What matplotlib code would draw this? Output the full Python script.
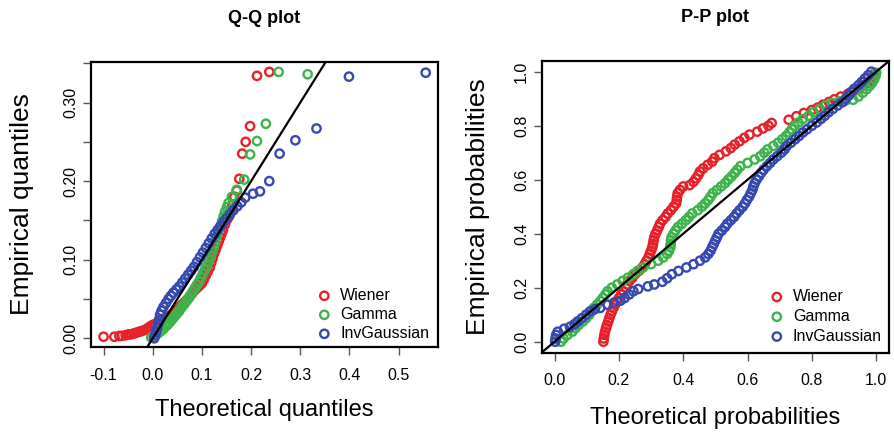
import numpy as np
import matplotlib
matplotlib.use('Agg')
import matplotlib.pyplot as plt

plt.rcParams['font.family'] = ['Liberation Sans', 'DejaVu Sans']

# ==============================================
# Data
# ==============================================
SERIES = ['Wiener', 'Gamma', 'InvGaussian']
COLORS = ['#e8202a', '#3cb44a', '#3549b0']

# Q-Q plot: (theoretical quantile, empirical quantile)
qq_wiener = [
    (-0.100, 0.002), (-0.078, 0.002), (-0.068, 0.003), (-0.063, 0.003), (-0.055, 0.004),
    (-0.049, 0.005), (-0.044, 0.005), (-0.039, 0.006), (-0.034, 0.007), (-0.029, 0.008),
    (-0.024, 0.009), (-0.019, 0.010), (-0.014, 0.011), (-0.010, 0.013), (-0.005, 0.015),
    (0.000, 0.017), (0.005, 0.018), (0.010, 0.020), (0.015, 0.022), (0.020, 0.023),
    (0.025, 0.025), (0.030, 0.027), (0.035, 0.029), (0.040, 0.031), (0.045, 0.034),
    (0.050, 0.037), (0.055, 0.040), (0.060, 0.043), (0.065, 0.046), (0.070, 0.049),
    (0.075, 0.053), (0.080, 0.057), (0.085, 0.061), (0.090, 0.064), (0.095, 0.067),
    (0.100, 0.070), (0.104, 0.075), (0.108, 0.080), (0.112, 0.085), (0.116, 0.090),
    (0.119, 0.096), (0.122, 0.102), (0.125, 0.108), (0.128, 0.113), (0.131, 0.118),
    (0.134, 0.123), (0.137, 0.128), (0.140, 0.133), (0.143, 0.138), (0.147, 0.145),
    (0.151, 0.151), (0.155, 0.155), (0.158, 0.160), (0.162, 0.170), (0.166, 0.180),
    (0.171, 0.188), (0.176, 0.203), (0.182, 0.235), (0.189, 0.250), (0.198, 0.270),
    (0.212, 0.334), (0.237, 0.339),
]
qq_gamma = [
    (-0.003, 0.001), (0.002, 0.003), (0.006, 0.004), (0.010, 0.006), (0.014, 0.008),
    (0.018, 0.010), (0.022, 0.012), (0.026, 0.015), (0.030, 0.017), (0.034, 0.020),
    (0.038, 0.023), (0.042, 0.026), (0.046, 0.029), (0.050, 0.032), (0.054, 0.035),
    (0.058, 0.039), (0.062, 0.042), (0.066, 0.045), (0.070, 0.049), (0.074, 0.052),
    (0.078, 0.056), (0.082, 0.060), (0.086, 0.064), (0.090, 0.068), (0.094, 0.072),
    (0.098, 0.077), (0.102, 0.082), (0.106, 0.087), (0.110, 0.092), (0.114, 0.098),
    (0.118, 0.104), (0.121, 0.110), (0.124, 0.116), (0.127, 0.122), (0.130, 0.130),
    (0.134, 0.137), (0.138, 0.143), (0.141, 0.149), (0.144, 0.155), (0.147, 0.161),
    (0.151, 0.167), (0.154, 0.172), (0.161, 0.180), (0.171, 0.189), (0.186, 0.202),
    (0.198, 0.234), (0.212, 0.251), (0.230, 0.273), (0.256, 0.339), (0.315, 0.336),
]
qq_invgauss = [
    (0.003, 0.000), (0.005, 0.004), (0.007, 0.008), (0.009, 0.013), (0.011, 0.018),
    (0.013, 0.024), (0.015, 0.030), (0.018, 0.035), (0.022, 0.040), (0.027, 0.045),
    (0.032, 0.050), (0.037, 0.054), (0.042, 0.058), (0.048, 0.062), (0.054, 0.066),
    (0.060, 0.071), (0.066, 0.076), (0.072, 0.081), (0.078, 0.086), (0.084, 0.091),
    (0.090, 0.097), (0.096, 0.103), (0.102, 0.109), (0.108, 0.115), (0.114, 0.121),
    (0.120, 0.127), (0.126, 0.133), (0.132, 0.138), (0.138, 0.143), (0.144, 0.148),
    (0.150, 0.153), (0.157, 0.158), (0.164, 0.163), (0.172, 0.168), (0.180, 0.173),
    (0.188, 0.179), (0.204, 0.184), (0.218, 0.187), (0.237, 0.200), (0.258, 0.235),
    (0.290, 0.252), (0.333, 0.267), (0.399, 0.333), (0.555, 0.338),
]

# P-P plot: (theoretical probability, empirical probability)
pp_wiener = [
    (0.152, 0.000), (0.153, 0.012), (0.155, 0.025), (0.157, 0.037), (0.160, 0.050),
    (0.163, 0.062), (0.167, 0.075), (0.170, 0.087), (0.174, 0.100), (0.178, 0.112),
    (0.183, 0.125), (0.188, 0.137), (0.194, 0.150), (0.200, 0.162), (0.207, 0.175),
    (0.214, 0.187), (0.222, 0.200), (0.226, 0.212), (0.233, 0.225), (0.242, 0.237),
    (0.250, 0.250), (0.262, 0.262), (0.273, 0.275), (0.280, 0.287), (0.286, 0.300),
    (0.292, 0.312), (0.296, 0.325), (0.300, 0.337), (0.304, 0.350), (0.306, 0.362),
    (0.308, 0.375), (0.310, 0.387), (0.314, 0.400), (0.319, 0.412), (0.324, 0.425),
    (0.328, 0.437), (0.336, 0.450), (0.345, 0.462), (0.352, 0.475), (0.362, 0.487),
    (0.370, 0.500), (0.378, 0.512), (0.380, 0.525), (0.381, 0.537), (0.383, 0.550),
    (0.390, 0.562), (0.400, 0.575), (0.420, 0.580), (0.432, 0.592), (0.440, 0.605),
    (0.447, 0.617), (0.452, 0.630), (0.462, 0.642), (0.476, 0.655), (0.490, 0.667),
    (0.497, 0.680), (0.513, 0.692), (0.533, 0.705), (0.548, 0.717), (0.560, 0.730),
    (0.575, 0.742), (0.590, 0.755), (0.606, 0.767), (0.630, 0.778), (0.648, 0.790),
    (0.665, 0.800), (0.675, 0.810), (0.728, 0.822), (0.752, 0.835), (0.775, 0.847),
    (0.800, 0.858), (0.818, 0.867), (0.835, 0.878), (0.853, 0.888), (0.870, 0.898),
    (0.890, 0.908), (0.912, 0.918), (0.930, 0.928), (0.948, 0.938), (0.960, 0.950),
    (0.975, 0.960), (0.985, 0.972), (0.992, 0.983), (0.996, 0.995),
]
pp_gamma = [
    (0.020, 0.000), (0.028, 0.012), (0.040, 0.025), (0.055, 0.037), (0.065, 0.050),
    (0.075, 0.062), (0.088, 0.075), (0.098, 0.087), (0.108, 0.100), (0.115, 0.112),
    (0.122, 0.125), (0.132, 0.137), (0.142, 0.150), (0.150, 0.162), (0.158, 0.175),
    (0.165, 0.187), (0.178, 0.200), (0.195, 0.212), (0.212, 0.225), (0.228, 0.237),
    (0.245, 0.250), (0.258, 0.262), (0.275, 0.275), (0.300, 0.287), (0.322, 0.300),
    (0.338, 0.312), (0.350, 0.325), (0.356, 0.337), (0.360, 0.350), (0.361, 0.362),
    (0.362, 0.375), (0.364, 0.387), (0.370, 0.400), (0.376, 0.412), (0.384, 0.425),
    (0.396, 0.437), (0.408, 0.450), (0.418, 0.462), (0.428, 0.475), (0.445, 0.487),
    (0.458, 0.500), (0.468, 0.512), (0.478, 0.525), (0.485, 0.537), (0.492, 0.550),
    (0.505, 0.562), (0.518, 0.575), (0.530, 0.587), (0.540, 0.600), (0.550, 0.612),
    (0.560, 0.625), (0.568, 0.637), (0.578, 0.650), (0.600, 0.662), (0.622, 0.675),
    (0.640, 0.687), (0.652, 0.700), (0.662, 0.712), (0.680, 0.725), (0.695, 0.737),
    (0.708, 0.750), (0.720, 0.762), (0.730, 0.775), (0.738, 0.787), (0.746, 0.800),
    (0.758, 0.812), (0.772, 0.825), (0.790, 0.837), (0.805, 0.850), (0.825, 0.862),
    (0.842, 0.875), (0.862, 0.884), (0.885, 0.890), (0.905, 0.893), (0.928, 0.896),
    (0.945, 0.908), (0.958, 0.922), (0.970, 0.935), (0.980, 0.948), (0.988, 0.960),
    (0.994, 0.973), (0.998, 0.985), (1.000, 0.996),
]
pp_invgauss = [
    (0.002, 0.000), (0.003, 0.012), (0.005, 0.025), (0.010, 0.037), (0.030, 0.048),
    (0.048, 0.055), (0.062, 0.065), (0.072, 0.075), (0.085, 0.087), (0.098, 0.100),
    (0.110, 0.112), (0.125, 0.120), (0.142, 0.125), (0.165, 0.137), (0.185, 0.145),
    (0.205, 0.152), (0.218, 0.162), (0.232, 0.175), (0.245, 0.187), (0.260, 0.195),
    (0.290, 0.205), (0.310, 0.212), (0.335, 0.222), (0.350, 0.235), (0.365, 0.250),
    (0.385, 0.262), (0.410, 0.275), (0.432, 0.287), (0.452, 0.300), (0.468, 0.312),
    (0.478, 0.325), (0.485, 0.337), (0.490, 0.350), (0.495, 0.362), (0.500, 0.375),
    (0.505, 0.387), (0.510, 0.400), (0.520, 0.412), (0.530, 0.425), (0.537, 0.437),
    (0.548, 0.450), (0.558, 0.462), (0.566, 0.475), (0.575, 0.487), (0.585, 0.500),
    (0.592, 0.512), (0.598, 0.525), (0.605, 0.537), (0.610, 0.550), (0.615, 0.562),
    (0.618, 0.575), (0.622, 0.587), (0.628, 0.600), (0.635, 0.612), (0.642, 0.625),
    (0.650, 0.637), (0.660, 0.650), (0.670, 0.662), (0.680, 0.675), (0.692, 0.687),
    (0.705, 0.700), (0.715, 0.712), (0.722, 0.725), (0.735, 0.737), (0.748, 0.750),
    (0.760, 0.762), (0.772, 0.775), (0.785, 0.787), (0.800, 0.800), (0.815, 0.812),
    (0.828, 0.825), (0.840, 0.837), (0.852, 0.850), (0.865, 0.862), (0.880, 0.875),
    (0.895, 0.887), (0.905, 0.900), (0.915, 0.912), (0.922, 0.925), (0.932, 0.937),
    (0.945, 0.950), (0.955, 0.962), (0.965, 0.975), (0.975, 0.987), (0.985, 1.000),
]

QQ_XTICKS = [-0.1, 0.0, 0.1, 0.2, 0.3, 0.4, 0.5]
QQ_XLABELS = ['-0.1', '0.0', '0.1', '0.2', '0.3', '0.4', '0.5']
QQ_YTICKS = [0.0, 0.05, 0.10, 0.15, 0.20, 0.25, 0.30, 0.35]
QQ_YLABELS = ['0.00', '', '0.10', '', '0.20', '', '0.30', '']
PP_TICKS = [0.0, 0.2, 0.4, 0.6, 0.8, 1.0]
PP_LABELS = ['0.0', '0.2', '0.4', '0.6', '0.8', '1.0']

# ==============================================
# Figure
# ==============================================
fig = plt.figure(figsize=(8.94, 4.36), dpi=100)
ax1 = fig.add_axes([0.1018, 0.2048, 0.3881, 0.6537])
ax2 = fig.add_axes([0.6059, 0.1915, 0.3886, 0.6688])


def style_axes(ax):
    for sp in ax.spines.values():
        sp.set_linewidth(1.6)
    ax.tick_params(direction='out', length=6, width=1.0, color='#555555', labelsize=11.5)
    ax.tick_params(axis='x', pad=9)
    ax.tick_params(axis='y', pad=3, labelrotation=90)
    for lab in ax.get_yticklabels():
        lab.set_verticalalignment('center')


def draw_points(ax, groups):
    for pts, name, col in zip(groups, SERIES, COLORS):
        arr = np.array(pts)
        ax.scatter(arr[:, 0], arr[:, 1], s=36, facecolors='none', edgecolors=col,
                   linewidths=1.7, label=name, zorder=3)
    ax.axline((0, 0), slope=1, color='black', lw=1.6, zorder=4)


# Q-Q
draw_points(ax1, [qq_wiener, qq_gamma, qq_invgauss])
ax1.set_xlim(-0.1255, 0.58)
ax1.set_ylim(-0.0107, 0.352)
ax1.set_xticks(QQ_XTICKS, QQ_XLABELS)
ax1.set_yticks(QQ_YTICKS, QQ_YLABELS)
style_axes(ax1)
ax1.text(0.5, 1.153, 'Q-Q plot', transform=ax1.transAxes, ha='center', va='center',
         fontsize=13, fontweight='bold')
ax1.set_xlabel('Theoretical quantiles', fontsize=17)
ax1.xaxis.set_label_coords(0.5, -0.222)
ax1.xaxis.label.set_verticalalignment('center')
ax1.set_ylabel('Empirical quantiles', fontsize=19)
ax1.yaxis.set_label_coords(-0.199, 0.5)
ax1.yaxis.label.set_verticalalignment('center')
ax1.legend(loc='lower right', bbox_to_anchor=(0.975, 0.02), frameon=False, fontsize=11.5,
           handlelength=1.0, handletextpad=0.5, labelspacing=0.25, borderaxespad=0,
           borderpad=0, scatterpoints=1)

# P-P
draw_points(ax2, [pp_wiener, pp_gamma, pp_invgauss])
ax2.set_xlim(-0.04, 1.04)
ax2.set_ylim(-0.04, 1.04)
ax2.set_xticks(PP_TICKS, PP_LABELS)
ax2.set_yticks(PP_TICKS, PP_LABELS)
style_axes(ax2)
ax2.text(0.5, 1.148, 'P-P plot', transform=ax2.transAxes, ha='center', va='center',
         fontsize=13, fontweight='bold')
ax2.set_xlabel('Theoretical probabilities', fontsize=17)
ax2.xaxis.set_label_coords(0.5, -0.225)
ax2.xaxis.label.set_verticalalignment('center')
ax2.set_ylabel('Empirical probabilities', fontsize=19)
ax2.yaxis.set_label_coords(-0.183, 0.5)
ax2.yaxis.label.set_verticalalignment('center')
ax2.legend(loc='lower right', bbox_to_anchor=(0.979, 0.03), frameon=False, fontsize=11.5,
           handlelength=1.0, handletextpad=0.5, labelspacing=0.3, borderaxespad=0,
           borderpad=0, scatterpoints=1)

fig.savefig('out.png', dpi=100)
